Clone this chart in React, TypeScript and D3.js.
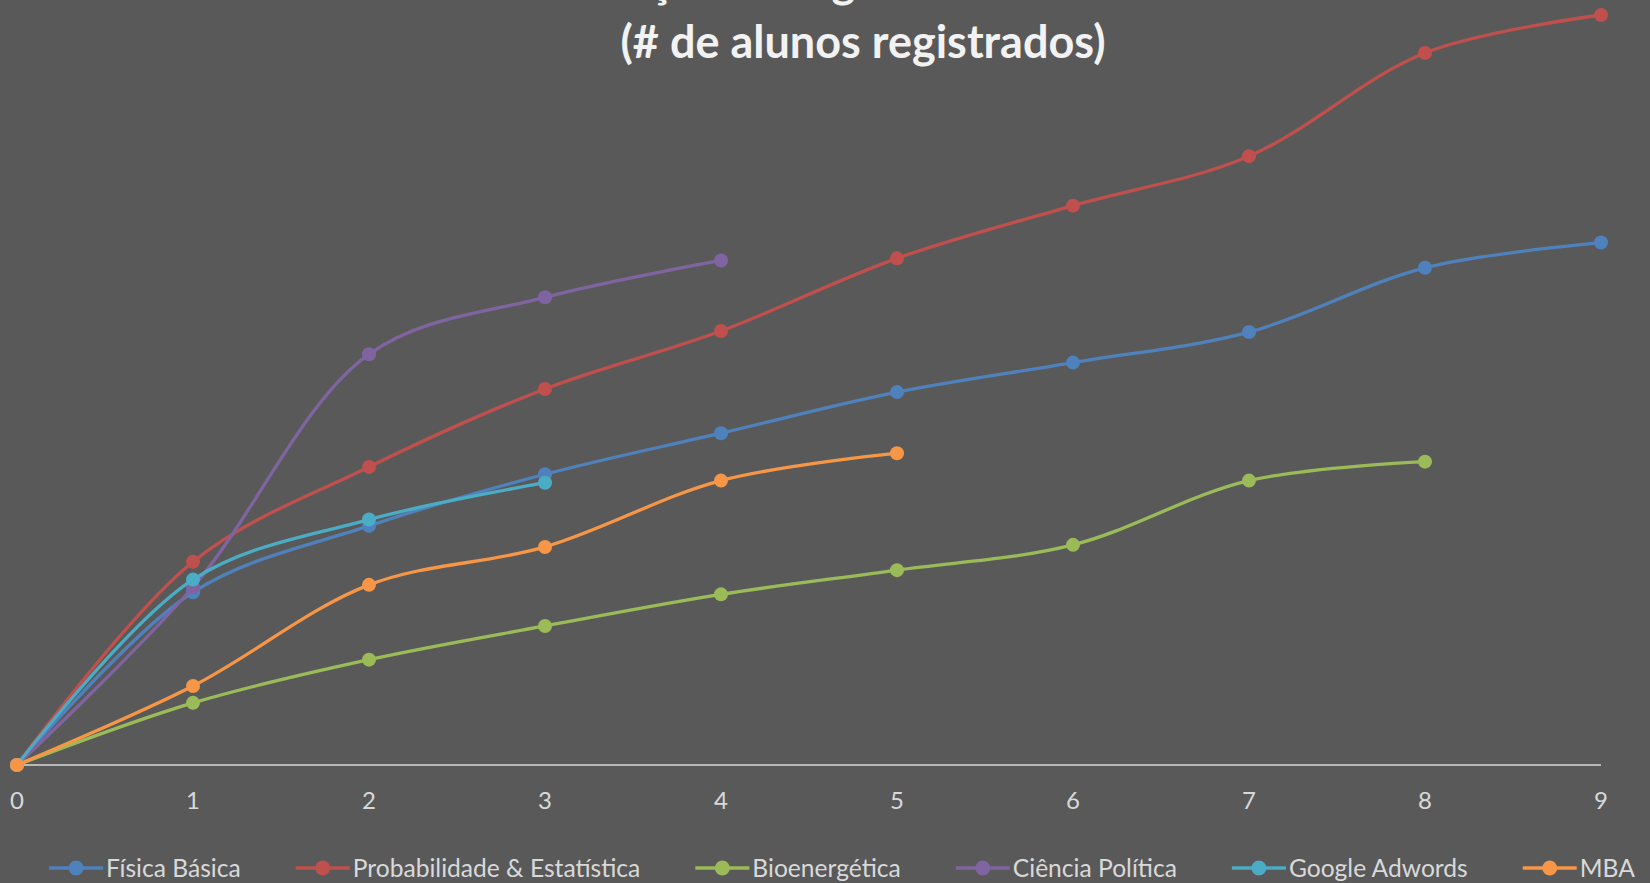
import React, { useRef, useEffect } from "react";
import * as d3 from "d3";

// weeks on the x axis
const weeks = [0, 1, 2, 3, 4, 5, 6, 7, 8, 9];

const seriesNames = [
  "Física Básica",
  "Probabilidade & Estatística",
  "Bioenergética",
  "Ciência Política",
  "Google Adwords",
  "MBA",
];

const seriesColors = ["#4F81BD", "#C0504D", "#9BBB59", "#8064A2", "#4BACC6", "#F79646"];

// registered students per week
const fisicaBasica = [0, 164, 227, 276, 315, 354, 382, 411, 472, 496];
const probabilidade = [0, 193, 283, 357, 412, 481, 531, 578, 676, 712];
const bioenergetica = [0, 59, 100, 132, 162, 185, 209, 270, 288];
const cienciaPolitica = [0, 169, 390, 444, 479];
const googleAdwords = [0, 176, 233, 268];
const mba = [0, 75, 171, 207, 270, 296];

const seriesValues = [fisicaBasica, probabilidade, bioenergetica, cienciaPolitica, googleAdwords, mba];

const titleLines = ["Evolução de registros nos cursos", "(# de alunos registrados)"];

const FONT = "Lato, 'Open Sans', sans-serif";

const App: React.FC = () => {
  const ref = useRef<SVGSVGElement>(null);

  useEffect(() => {
    if (!ref.current) return;
    const svg = d3.select(ref.current);
    svg.selectAll("*").remove();

    const width = 1650;
    const height = 883;

    svg.append("rect").attr("width", width).attr("height", height).attr("fill", "#595959");

    const x = d3.scaleLinear().domain([0, 9]).range([17, 1601]);
    const y = d3.scaleLinear().domain([0, 712]).range([765, 15]);

    // title (first line runs off the top, as in the original)
    const title = svg
      .append("text")
      .attr("text-anchor", "middle")
      .attr("font-family", FONT)
      .attr("font-weight", "bold")
      .attr("font-size", 45)
      .attr("fill", "#F2F2F2");
    title.append("tspan").attr("x", 863).attr("y", -3).text(titleLines[0]);
    title.append("tspan").attr("x", 863).attr("y", 58).text(titleLines[1]);

    // axis line
    svg
      .append("line")
      .attr("x1", x(0))
      .attr("x2", x(9))
      .attr("y1", y(0))
      .attr("y2", y(0))
      .attr("stroke", "#D9D9D9")
      .attr("stroke-width", 1.5);

    // tick labels
    svg
      .selectAll(".tick")
      .data(weeks)
      .enter()
      .append("text")
      .attr("x", (d) => x(d))
      .attr("y", 809)
      .attr("text-anchor", "middle")
      .attr("font-family", FONT)
      .attr("font-size", 24)
      .attr("fill", "#D9D9D9")
      .text((d) => d);

    const line = d3
      .line<number>()
      .x((_, i) => x(i))
      .y((d) => y(d))
      .curve(d3.curveCatmullRom.alpha(0.5));

    seriesValues.forEach((vals, s) => {
      const g = svg.append("g");
      g.append("path")
        .attr("d", line(vals) || "")
        .attr("fill", "none")
        .attr("stroke", seriesColors[s])
        .attr("stroke-width", 3.3)
        .attr("stroke-linejoin", "round");
      g.selectAll("circle")
        .data(vals)
        .enter()
        .append("circle")
        .attr("cx", (_, i) => x(i))
        .attr("cy", (d) => y(d))
        .attr("r", 7)
        .attr("fill", seriesColors[s]);
    });

    // legend
    const legend = svg.append("g");
    const lineLen = 54;
    const textGap = 3;
    const itemGap = 55;
    const ly = 868;
    const items = seriesNames.map((name, i) => {
      const g = legend.append("g");
      g.append("line")
        .attr("x1", 0)
        .attr("x2", lineLen)
        .attr("y1", ly)
        .attr("y2", ly)
        .attr("stroke", seriesColors[i])
        .attr("stroke-width", 3.5);
      g.append("circle").attr("cx", lineLen / 2).attr("cy", ly).attr("r", 7.5).attr("fill", seriesColors[i]);
      const t = g
        .append("text")
        .attr("x", lineLen + textGap)
        .attr("y", ly + 9)
        .attr("font-family", FONT)
        .attr("font-size", 24.6)
        .attr("fill", "#D9D9D9")
        .text(name);
      const w = (t.node() as SVGTextElement).getComputedTextLength();
      return { g, w: lineLen + textGap + w };
    });
    const total = d3.sum(items, (d) => d.w) + itemGap * (items.length - 1);
    let cx = 842 - total / 2;
    items.forEach((it) => {
      it.g.attr("transform", `translate(${cx},0)`);
      cx += it.w + itemGap;
    });
  }, []);

  return (
    <svg
      ref={ref}
      width={1650}
      height={883}
      style={{ position: "absolute", left: 0, top: 0, display: "block" }}
    ></svg>
  );
};

export default App;
